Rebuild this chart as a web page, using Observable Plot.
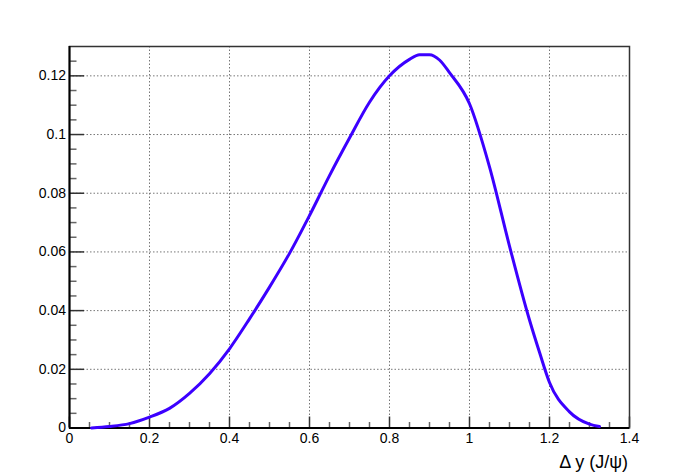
<!DOCTYPE html>
<html>
<head>
<meta charset="utf-8">
<script src="https://cdn.jsdelivr.net/npm/d3@7"></script>
<script src="https://cdn.jsdelivr.net/npm/@observablehq/plot@0.6"></script>
<style>
  html, body { margin: 0; padding: 0; background: #fff; }
  #chart svg { display: block; }
</style>
</head>
<body>
<div id="chart"></div>
<script>
// Curve samples (Δy of J/ψ vs density)
const dy = [0.055, 0.1, 0.15, 0.2, 0.25, 0.3, 0.35, 0.4, 0.45, 0.5, 0.55, 0.6, 0.65, 0.7, 0.75, 0.8, 0.85, 0.875, 0.9, 0.925, 0.95, 1.0, 1.05, 1.1, 1.15, 1.175, 1.2, 1.25, 1.3, 1.325];
const density = [0.0, 0.0005, 0.0015, 0.0037, 0.0067, 0.0118, 0.0185, 0.027, 0.0372, 0.048, 0.0595, 0.0724, 0.086, 0.0988, 0.111, 0.12, 0.1256, 0.1272, 0.1272, 0.1254, 0.1211, 0.1105, 0.089, 0.062, 0.0368, 0.0258, 0.0155, 0.0055, 0.0013, 0.0005];

const xMajor = [0, 0.2, 0.4, 0.6, 0.8, 1, 1.2, 1.4];
const xMinor = [0.05, 0.1, 0.15, 0.25, 0.3, 0.35, 0.45, 0.5, 0.55, 0.65, 0.7, 0.75, 0.85, 0.9, 0.95, 1.05, 1.1, 1.15, 1.25, 1.3, 1.35];
const yMajor = [0, 0.02, 0.04, 0.06, 0.08, 0.1, 0.12];
const yMinor = [0.005, 0.01, 0.015, 0.025, 0.03, 0.035, 0.045, 0.05, 0.055, 0.065, 0.07, 0.075, 0.085, 0.09, 0.095, 0.105, 0.11, 0.115, 0.125];
const xTitle = "Δ y (J/ψ)";

const data = dy.map((x, i) => ({x, y: density[i]}));

const W = 698, H = 475;
const mL = 69, mR = 69, mT = 46, mB = 47.5;
const plotW = W - mL - mR, plotH = H - mT - mB;

const chart = Plot.plot({
  width: W,
  height: H,
  marginLeft: mL,
  marginRight: mR,
  marginTop: mT,
  marginBottom: mB,
  style: {fontFamily: "'Liberation Sans', Arial, Helvetica, sans-serif", fontSize: "14px", color: "#000", background: "#fff"},
  x: {domain: [0, 1.4]},
  y: {domain: [0, 0.13]},
  marks: [
    // dotted grid
    Plot.ruleX(xMajor.filter(d => d > 0 && d < 1.4), {stroke: "#777", strokeWidth: 1, strokeDasharray: "1.5,2", strokeOpacity: 1}),
    Plot.ruleY(yMajor.filter(d => d > 0), {stroke: "#777", strokeWidth: 1, strokeDasharray: "1.5,2", strokeOpacity: 1}),
    // inner ticks bottom
    Plot.ruleX(xMajor, {insetTop: plotH - 11, stroke: "#333", strokeWidth: 1.5}),
    Plot.ruleX(xMinor, {insetTop: plotH - 5.5, stroke: "#666", strokeWidth: 1.5}),
    // inner ticks left
    Plot.ruleY(yMajor, {insetRight: plotW - 15, stroke: "#333", strokeWidth: 1.5}),
    Plot.ruleY(yMinor, {insetRight: plotW - 7.5, stroke: "#666", strokeWidth: 1.5}),
    // frame
    Plot.frame({stroke: "#333", strokeWidth: 1.5}),
    Plot.ruleX([0], {stroke: "#000", strokeWidth: 2}),
    Plot.ruleY([0], {stroke: "#000", strokeWidth: 2}),
    // tick labels
    Plot.axisX(xMajor, {tickSize: 0, tickPadding: 5, tickFormat: d => String(d), fontSize: 14, label: null}),
    Plot.axisY(yMajor, {tickSize: 0, tickPadding: 3.5, tickFormat: d => String(d), fontSize: 14, label: null}),
    // curve
    Plot.line(data, {x: "x", y: "y", stroke: "#3c00ff", strokeWidth: 3, curve: "monotone-x"}),
    // axis title
    Plot.text([xTitle], {frameAnchor: "bottom-right", textAnchor: "end", lineAnchor: "bottom", dy: 39.5, dx: -1.5, fontSize: 18, text: d => d})
  ]
});
document.getElementById("chart").appendChild(chart);
</script>
</body>
</html>
